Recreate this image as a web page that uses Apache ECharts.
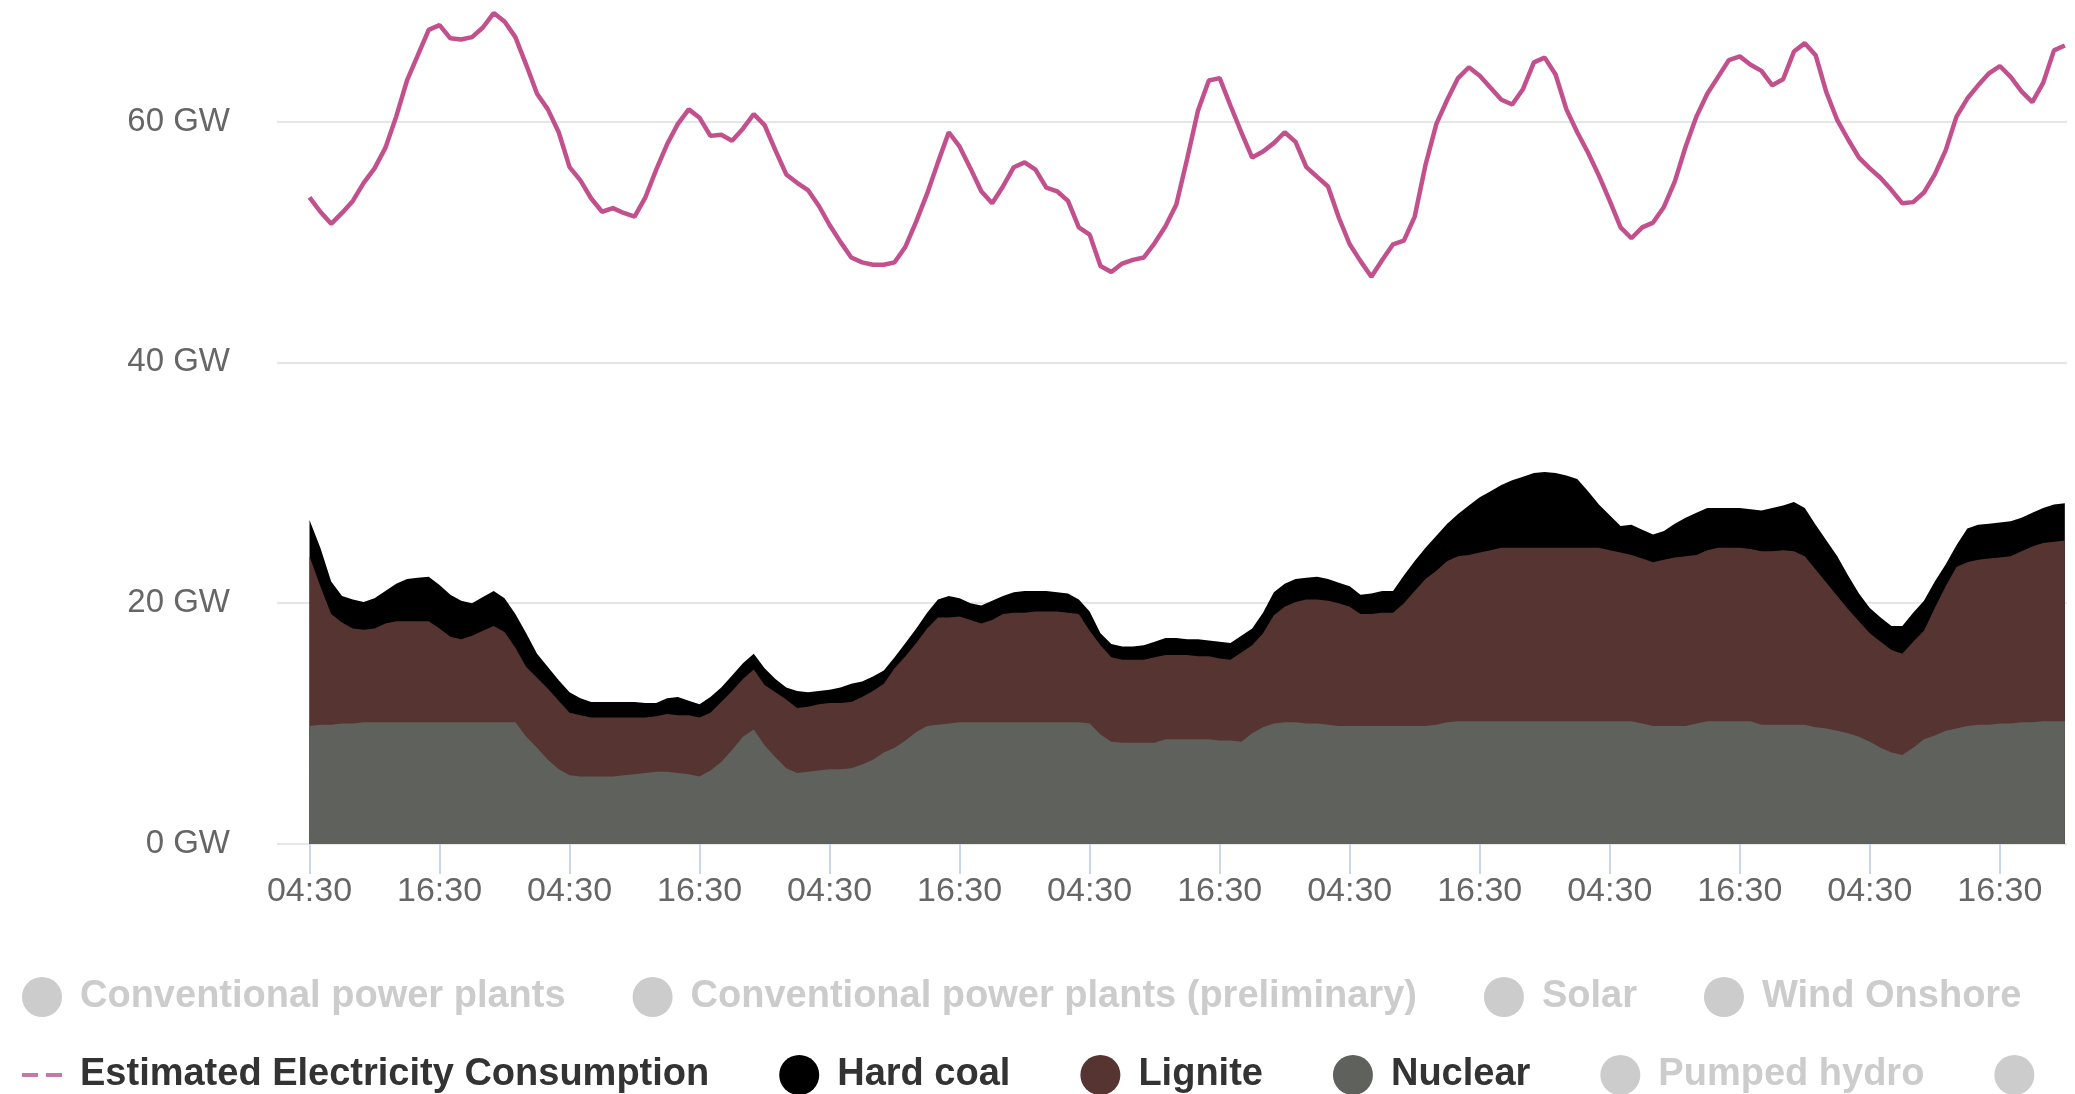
<!DOCTYPE html>
<html lang="en">

<head>
    <meta charset="UTF-8">
    <title>Power generation and consumption</title>
    <script src="https://cdn.jsdelivr.net/npm/echarts@6.0.0/dist/echarts.min.js"></script>
    <style>
        html, body { margin: 0; padding: 0; background: #fff; }
    </style>
</head>

<body>
    <div id="main" style="width: 2075px;height:1094px;"></div>
    <script type="text/javascript">
        // x positions are hours after the first 04:30
        const tickHours = [0, 12, 24, 36, 48, 60, 72, 84, 96, 108, 120, 132, 144, 156];
        const tickLabels = ['04:30', '16:30', '04:30', '16:30', '04:30', '16:30', '04:30',
            '16:30', '04:30', '16:30', '04:30', '16:30', '04:30', '16:30'];

        // all series: one value per hour (GW)
        const consumption = [
            53.7, 52.5, 51.5, 52.4, 53.4, 54.9, 56.1, 57.8, 60.4, 63.4,
            65.5, 67.6, 68.0, 66.9, 66.8, 67.0, 67.8, 69.0, 68.3, 67.0,
            64.7, 62.3, 61.0, 59.1, 56.2, 55.1, 53.6, 52.5, 52.8, 52.4,
            52.1, 53.7, 56.0, 58.1, 59.8, 61.0, 60.3, 58.8, 58.9, 58.4,
            59.4, 60.6, 59.7, 57.6, 55.6, 54.9, 54.3, 53.0, 51.4, 50.0,
            48.7, 48.3, 48.1, 48.1, 48.3, 49.6, 51.7, 54.0, 56.6, 59.1,
            57.9, 56.1, 54.2, 53.2, 54.6, 56.2, 56.6, 56.0, 54.5, 54.2,
            53.4, 51.2, 50.6, 48.0, 47.5, 48.2, 48.5, 48.7, 49.9, 51.3,
            53.1, 56.9, 60.9, 63.4, 63.6, 61.3, 59.1, 57.0, 57.5, 58.2,
            59.1, 58.3, 56.2, 55.4, 54.6, 52.0, 49.8, 48.4, 47.1, 48.5,
            49.8, 50.1, 52.1, 56.4, 59.8, 61.8, 63.6, 64.5, 63.8, 62.8,
            61.8, 61.4, 62.7, 64.9, 65.3, 63.9, 61.0, 59.1, 57.4, 55.5,
            53.4, 51.2, 50.3, 51.2, 51.6, 52.9, 55.0, 57.9, 60.4, 62.3,
            63.7, 65.1, 65.4, 64.7, 64.2, 63.0, 63.5, 65.8, 66.5, 65.5,
            62.4, 60.1, 58.5, 57.0, 56.1, 55.3, 54.3, 53.2, 53.3, 54.1,
            55.6, 57.6, 60.4, 61.9, 63.0, 64.0, 64.6, 63.7, 62.5, 61.6,
            63.2, 65.9, 66.3
        ];

        const nuclear = [
            9.8, 9.9, 9.9, 10.0, 10.0, 10.1, 10.1, 10.1, 10.1, 10.1,
            10.1, 10.1, 10.1, 10.1, 10.1, 10.1, 10.1, 10.1, 10.1, 10.1,
            8.9, 8.0, 7.0, 6.2, 5.7, 5.6, 5.6, 5.6, 5.6, 5.7,
            5.8, 5.9, 6.0, 6.0, 5.9, 5.8, 5.6, 6.1, 6.8, 7.8,
            8.9, 9.5, 8.2, 7.2, 6.3, 5.9, 6.0, 6.1, 6.2, 6.2,
            6.3, 6.6, 7.0, 7.6, 8.0, 8.6, 9.3, 9.8, 9.9, 10.0,
            10.1, 10.1, 10.1, 10.1, 10.1, 10.1, 10.1, 10.1, 10.1, 10.1,
            10.1, 10.1, 10.0, 9.1, 8.5, 8.4, 8.4, 8.4, 8.4, 8.7,
            8.7, 8.7, 8.7, 8.7, 8.6, 8.6, 8.5, 9.2, 9.7, 10.0,
            10.1, 10.1, 10.0, 10.0, 9.9, 9.8, 9.8, 9.8, 9.8, 9.8,
            9.8, 9.8, 9.8, 9.8, 9.9, 10.1, 10.2, 10.2, 10.2, 10.2,
            10.2, 10.2, 10.2, 10.2, 10.2, 10.2, 10.2, 10.2, 10.2, 10.2,
            10.2, 10.2, 10.2, 10.0, 9.8, 9.8, 9.8, 9.8, 10.0, 10.2,
            10.2, 10.2, 10.2, 10.2, 9.9, 9.9, 9.9, 9.9, 9.9, 9.7,
            9.6, 9.4, 9.2, 8.9, 8.5, 8.0, 7.6, 7.4, 8.0, 8.7,
            9.0, 9.4, 9.6, 9.8, 9.9, 9.9, 10.0, 10.0, 10.1, 10.1,
            10.2, 10.2, 10.2
        ];

        const lignite = [
            14.1, 11.5, 9.2, 8.4, 7.9, 7.7, 7.8, 8.2, 8.4, 8.4,
            8.4, 8.4, 7.8, 7.1, 6.9, 7.2, 7.6, 8.0, 7.5, 6.2,
            5.8, 5.8, 5.9, 5.7, 5.2, 5.1, 4.9, 4.9, 4.9, 4.8,
            4.7, 4.6, 4.6, 4.8, 4.8, 4.9, 4.9, 4.8, 5.0, 4.9,
            4.8, 5.0, 5.0, 5.4, 5.7, 5.4, 5.4, 5.5, 5.5, 5.5,
            5.5, 5.6, 5.7, 5.7, 6.6, 7.0, 7.4, 8.1, 8.9, 8.8,
            8.8, 8.5, 8.2, 8.5, 9.0, 9.1, 9.1, 9.2, 9.2, 9.2,
            9.1, 9.0, 7.7, 7.4, 7.0, 6.9, 6.9, 6.9, 7.1, 7.0,
            7.0, 7.0, 6.9, 6.9, 6.8, 6.7, 7.4, 7.3, 7.8, 9.0,
            9.6, 10.0, 10.3, 10.3, 10.3, 10.2, 9.9, 9.3, 9.3, 9.4,
            9.4, 10.2, 11.2, 12.2, 12.8, 13.4, 13.7, 13.8, 14.0, 14.2,
            14.4, 14.4, 14.4, 14.4, 14.4, 14.4, 14.4, 14.4, 14.4, 14.4,
            14.2, 14.0, 13.8, 13.7, 13.6, 13.8, 14.0, 14.1, 14.0, 14.2,
            14.4, 14.4, 14.4, 14.3, 14.4, 14.4, 14.5, 14.4, 14.0, 13.1,
            12.1, 11.2, 10.3, 9.6, 9.0, 8.8, 8.5, 8.4, 8.8, 9.0,
            10.6, 12.0, 13.4, 13.6, 13.7, 13.8, 13.8, 13.9, 14.2, 14.6,
            14.8, 14.9, 15.0
        ];

        const hardCoal = [
            3.0, 3.2, 2.7, 2.2, 2.4, 2.3, 2.5, 2.7, 3.1, 3.5,
            3.6, 3.7, 3.6, 3.5, 3.2, 2.7, 2.8, 2.9, 2.8, 2.8,
            2.8, 2.0, 1.8, 1.7, 1.7, 1.4, 1.3, 1.3, 1.3, 1.3,
            1.3, 1.2, 1.1, 1.3, 1.5, 1.2, 1.1, 1.3, 1.2, 1.3,
            1.3, 1.3, 1.4, 1.1, 1.0, 1.4, 1.2, 1.1, 1.1, 1.3,
            1.5, 1.3, 1.2, 1.1, 0.9, 1.1, 1.2, 1.3, 1.5, 1.8,
            1.5, 1.4, 1.5, 1.6, 1.5, 1.7, 1.8, 1.7, 1.7, 1.6,
            1.6, 1.2, 1.6, 1.0, 1.1, 1.1, 1.1, 1.2, 1.3, 1.4,
            1.4, 1.3, 1.4, 1.3, 1.4, 1.4, 1.4, 1.4, 1.7, 1.9,
            1.9, 1.9, 1.8, 1.9, 1.8, 1.7, 1.7, 1.6, 1.7, 1.8,
            1.8, 2.3, 2.5, 2.6, 2.9, 3.1, 3.5, 4.1, 4.6, 4.9,
            5.2, 5.6, 5.9, 6.2, 6.3, 6.2, 6.0, 5.7, 4.7, 3.6,
            2.9, 2.2, 2.5, 2.4, 2.3, 2.4, 2.8, 3.2, 3.5, 3.5,
            3.3, 3.3, 3.3, 3.3, 3.4, 3.6, 3.7, 4.1, 4.0, 3.7,
            3.5, 3.3, 2.8, 2.3, 2.1, 2.0, 2.0, 2.3, 2.4, 2.5,
            2.2, 1.8, 1.8, 2.8, 2.9, 2.9, 2.9, 2.9, 2.8, 2.8,
            2.9, 3.1, 3.1
        ];

        const hours = consumption.map((v, i) => i);

        // stacked tops: nuclear at the bottom, then lignite, then hard coal
        const ligniteTop = lignite.map((v, i) => +(v + nuclear[i]).toFixed(2));
        const totalTop = hardCoal.map((v, i) => +(v + ligniteTop[i]).toFixed(2));

        const font = 'Liberation Sans, Arial, sans-serif';

        function area(name, color, values) {
            return {
                name: name,
                type: 'line',
                data: values.map((v, i) => [hours[i], v]),
                showSymbol: false,
                lineStyle: { width: 0 },
                itemStyle: { color: color },
                areaStyle: { color: color, opacity: 1 }
            };
        }

        function hidden(name) {
            return { name: name, type: 'line', data: [], itemStyle: { color: '#ccc' } };
        }

        let options = {
            animation: false,
            textStyle: { fontFamily: font },
            grid: { left: 277, right: 8, top: 1, bottom: 250 },
            legend: [{
                top: 972,
                left: 17,
                width: 3000,
                itemWidth: 40,
                itemHeight: 40,
                itemGap: 67,
                icon: 'circle',
                inactiveColor: '#ccc',
                itemStyle: { borderWidth: 0 },
                textStyle: { fontSize: 38, fontWeight: 'bold', color: '#333', fontFamily: font, padding: [0, 0, 0, 13] },
                data: ['Conventional power plants', 'Conventional power plants (preliminary)', 'Solar', 'Wind Onshore'],
                selected: {
                    'Conventional power plants': false,
                    'Conventional power plants (preliminary)': false,
                    'Solar': false,
                    'Wind Onshore': false
                }
            }, {
                top: 1050,
                left: 17,
                width: 3000,
                itemWidth: 40,
                itemHeight: 40,
                itemGap: 70,
                icon: 'circle',
                inactiveColor: '#ccc',
                itemStyle: { borderWidth: 0 },
                textStyle: { fontSize: 38, fontWeight: 'bold', color: '#333', fontFamily: font, padding: [0, 0, 0, 13] },
                data: [
                    { name: 'Estimated Electricity Consumption', icon: 'path://M0,0h16v4h-16z M24,0h16v4h-16z', itemStyle: { color: '#c47aa5' } },
                    'Hard coal', 'Lignite', 'Nuclear', 'Pumped hydro',
                    // last entry runs past the right edge of the picture
                    { name: 'Biomass', textStyle: { padding: [0, 0, 0, 60] } }
                ],
                selected: { 'Pumped hydro': false, 'Biomass': false }
            }],
            xAxis: {
                type: 'value',
                min: -3,
                max: 162.2,
                axisLine: { show: false },
                splitLine: { show: false },
                axisTick: {
                    show: true,
                    customValues: tickHours,
                    length: 30,
                    lineStyle: { color: '#ccd6eb', width: 2 }
                },
                axisLabel: {
                    customValues: tickHours,
                    formatter: v => tickLabels[tickHours.indexOf(v)],
                    margin: 31,
                    fontSize: 34,
                    color: '#666',
                    fontFamily: font
                }
            },
            yAxis: {
                type: 'value',
                min: 0,
                max: 70,
                interval: 20,
                axisLine: { show: false },
                axisTick: { show: false },
                axisLabel: {
                    margin: 47,
                    fontSize: 33,
                    color: '#666',
                    fontFamily: font,
                    formatter: v => (v % 20 === 0 ? v + ' GW' : '')
                },
                splitLine: {
                    lineStyle: { color: ['#e6e6e6', '#e6e6e6', '#e6e6e6', '#e6e6e6', 'rgba(0,0,0,0)'], width: 2 }
                }
            },
            series: [
                hidden('Conventional power plants'),
                hidden('Conventional power plants (preliminary)'),
                hidden('Solar'),
                hidden('Wind Onshore'),
                area('Hard coal', '#000000', totalTop),
                area('Lignite', '#563431', ligniteTop),
                area('Nuclear', '#5f615c', nuclear),
                hidden('Pumped hydro'),
                hidden('Biomass'),
                {
                    name: 'Estimated Electricity Consumption',
                    type: 'line',
                    data: consumption.map((v, i) => [hours[i], v]),
                    showSymbol: false,
                    itemStyle: { color: '#c2508c' },
                    lineStyle: { color: '#c2508c', width: 4.5 },
                    z: 5
                }
            ]
        };

        let myChart = echarts.init(document.getElementById('main'));
        myChart.setOption(options);
    </script>
</body>

</html>
